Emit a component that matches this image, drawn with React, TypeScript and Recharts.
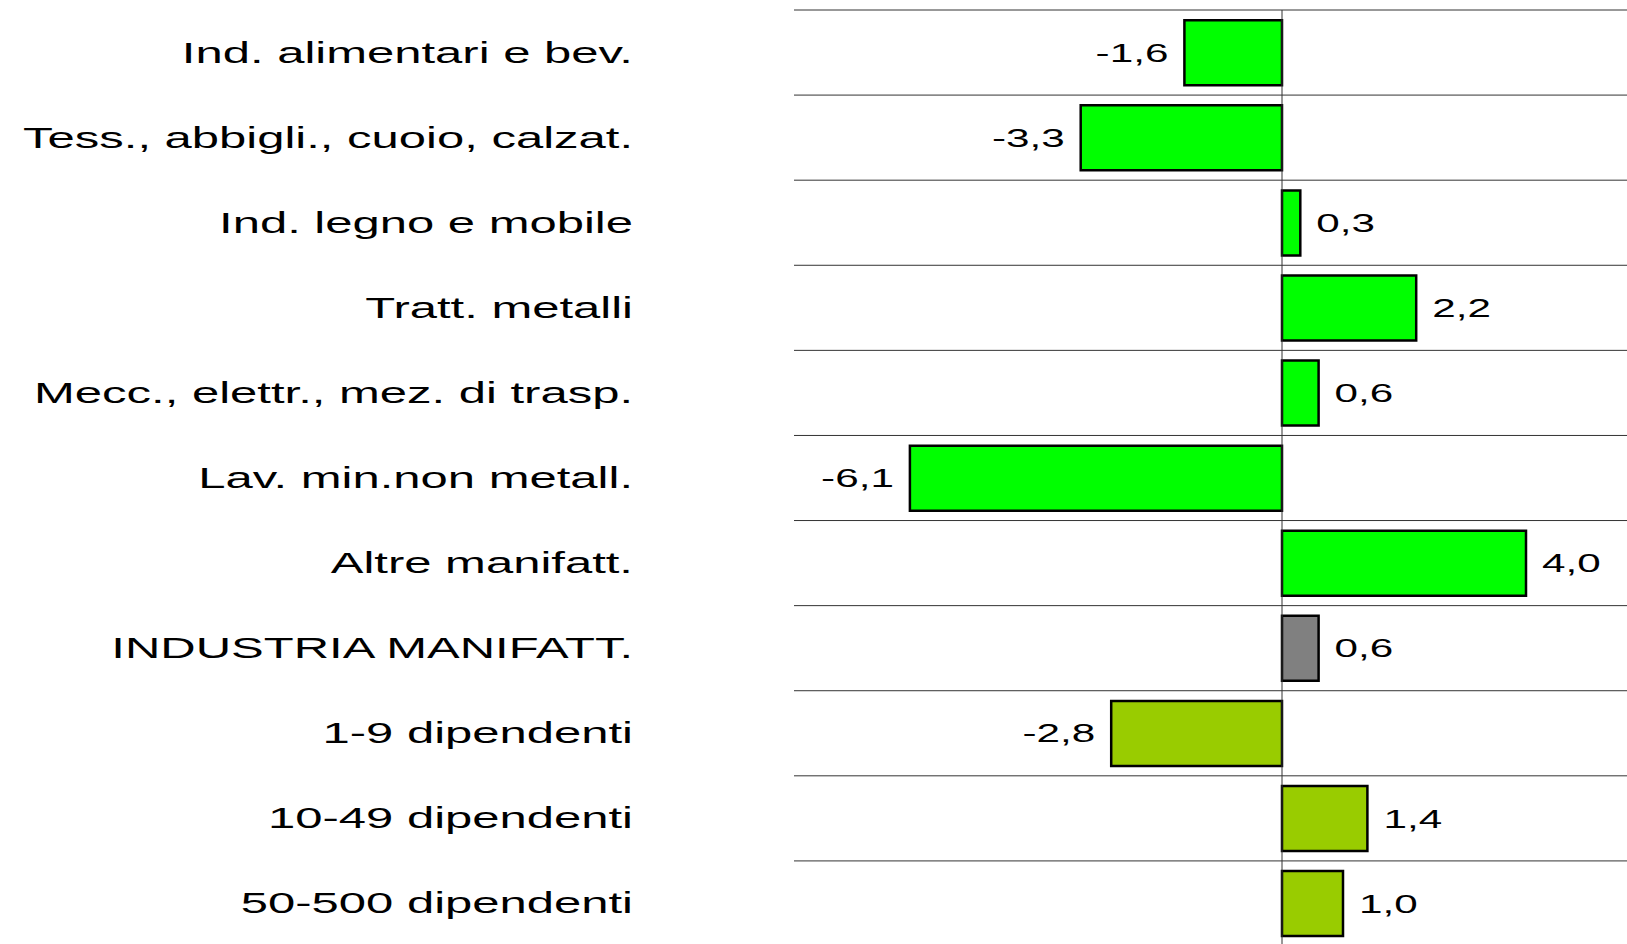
import { BarChart, Bar, XAxis, YAxis, CartesianGrid, ReferenceLine, Cell, LabelList } from "recharts";

const categories = [
  "Ind. alimentari e bev.",
  "Tess., abbigli., cuoio, calzat.",
  "Ind. legno e mobile",
  "Tratt. metalli",
  "Mecc., elettr., mez. di trasp.",
  "Lav. min.non metall.",
  "Altre manifatt.",
  "INDUSTRIA MANIFATT.",
  "1-9 dipendenti",
  "10-49 dipendenti",
  "50-500 dipendenti",
];

const values = [-1.6, -3.3, 0.3, 2.2, 0.6, -6.1, 4.0, 0.6, -2.8, 1.4, 1.0];

const groups = ["settore", "settore", "settore", "settore", "settore", "settore", "settore", "totale", "classe", "classe", "classe"];

const groupColors: { [g: string]: string } = {
  settore: "#00ff00",
  totale: "#808080",
  classe: "#99cc00",
};

const FONT = "'Liberation Sans', Arial, sans-serif";
const STRETCH = 1.69;

const data = categories.map((name, i) => ({ name, value: values[i], group: groups[i] }));

const fmt = (v: number) => v.toFixed(1).replace(".", ",");

function CategoryTick(props: any) {
  const { x, y, payload } = props;
  return (
    <text
      transform={`translate(${x},${y + 10}) scale(${STRETCH},1)`}
      textAnchor="end"
      fontFamily={FONT}
      fontSize={29}
      fill="#000"
    >
      {payload.value}
    </text>
  );
}

function ValueLabel(props: any) {
  const { x, y, width, height, value } = props;
  const left = Math.min(x, x + width);
  const right = Math.max(x, x + width);
  const neg = value < 0;
  const tx = neg ? left - 16 : right + 16;
  return (
    <text
      transform={`translate(${tx},${y + height / 2 + 9}) scale(${STRETCH},1)`}
      textAnchor={neg ? "end" : "start"}
      fontFamily={FONT}
      fontSize={25}
      fill="#000"
    >
      {fmt(value)}
    </text>
  );
}

// lines on band boundaries instead of band centres
const bandLines = ({ offset }: any) =>
  categories.map((_, i) => offset.top + (i * offset.height) / categories.length).concat(offset.top + offset.height);

export default function App() {
  return (
    <div style={{ position: "absolute", left: 0, top: 0, width: 1627, height: 944, overflow: "hidden", background: "#fff" }}>
      <BarChart
        width={1648}
        height={946}
        data={data}
        layout="vertical"
        margin={{ top: 10, right: 0, bottom: 0, left: 0 }}
        barCategoryGap="12%"
      >
        <CartesianGrid vertical={false} stroke="#333" horizontalCoordinatesGenerator={bandLines} />
        <XAxis type="number" domain={[-8, 6]} hide allowDataOverflow />
        <YAxis
          type="category"
          dataKey="name"
          width={794}
          axisLine={false}
          tickLine={false}
          tickSize={0}
          tickMargin={161}
          tick={<CategoryTick />}
          interval={0}
        />
        <ReferenceLine x={0} stroke="#333" strokeWidth={1} />
        <Bar dataKey="value" stroke="#000" strokeWidth={2.5} isAnimationActive={false}>
          {data.map((d) => (
            <Cell key={d.name} fill={groupColors[d.group]} />
          ))}
          <LabelList dataKey="value" content={<ValueLabel />} />
        </Bar>
      </BarChart>
    </div>
  );
}
